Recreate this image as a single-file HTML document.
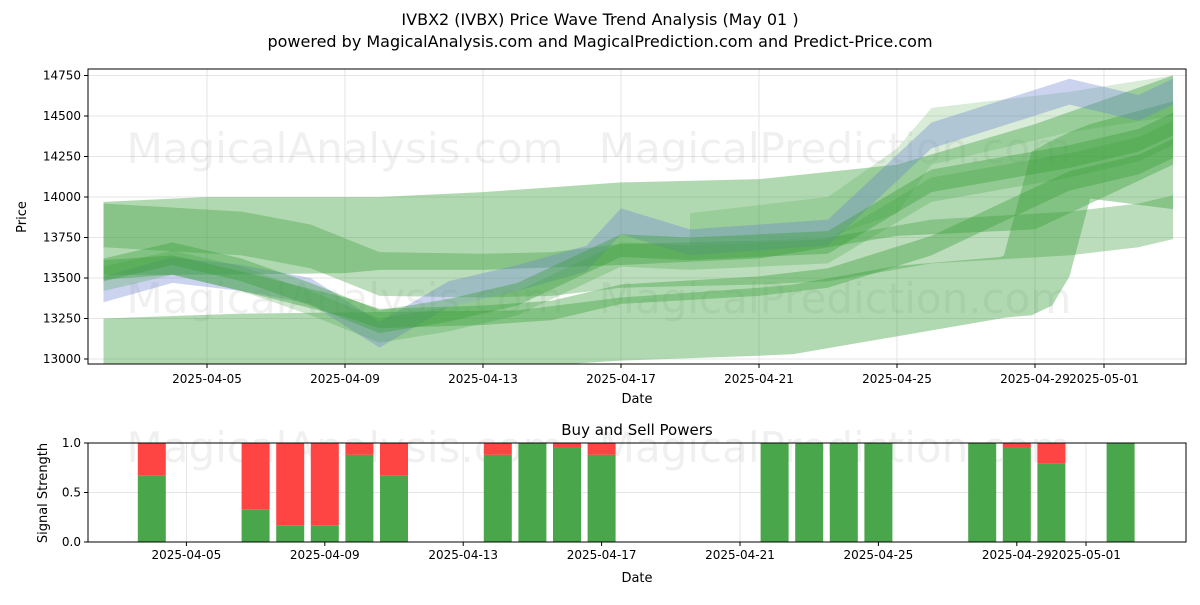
<!DOCTYPE html>
<html><head><meta charset="utf-8"><style>
body{margin:0;background:#fff;font-family:"Liberation Sans","DejaVu Sans",sans-serif}
svg text{font-family:"DejaVu Sans","Liberation Sans",sans-serif}
</style></head><body>
<svg id="chart" width="1200" height="600" xmlns="http://www.w3.org/2000/svg">
<rect width="1200" height="600" fill="#fff"/>
<text x="600" y="25" text-anchor="middle" font-size="16">IVBX2 (IVBX) Price Wave Trend Analysis (May 01 )</text>
<text x="600" y="47" text-anchor="middle" font-size="16">powered by MagicalAnalysis.com and MagicalPrediction.com and Predict-Price.com</text>
<g id="gtop"></g>
<g id="gbot"></g>
</svg>
<script>
// data
const xTickLabels=["2025-04-05","2025-04-09","2025-04-13","2025-04-17","2025-04-21","2025-04-25","2025-04-29","2025-05-01"];
const xTickDays=[4,8,12,16,20,24,28,30];
const yTicks=[13000,13250,13500,13750,14000,14250,14500,14750];
const sTicks=[0,0.5,1.0];
const b1Days=[1,5,9,13,16,20,21,24,27,27.1,27.9,28.5,29,29.6,32];
const b1Hi=[13250,13280,13290,13300,13380,13440,13460,13575,13630,13640,14280,14350,14400,14450,14590];
const b1Lo=[12950,12950,12950,12950,12990,13020,13030,13140,13250,13255,13270,13330,13510,13990,13925];
const b2Days=[1,4,8,9,12,16,20,24,28,32];
const b2Hi=[13970,14000,14000,14000,14030,14090,14110,14200,14450,14750];
const b2Lo=[13520,13520,13530,13550,13550,13580,13620,13760,13800,14200];
const b3Days=[1,3,5,7,9,11,13,15,16,18,22,25,29,31,32];
const b3Mid=[13430,13550,13500,13420,13150,13400,13500,13620,13850,13720,13780,14380,14650,14550,14650];
const b4Mid=[13550,13650,13550,13400,13230,13300,13400,13600,13700,13680,13720,14100,14250,14350,14450];
const b5Days=[1,5,7,9,12,14,16,20,22,25,29,31,32];
const b5Mid=[13950,13900,13820,13650,13640,13650,13700,13720,13740,13850,13900,13950,14000];
const b6Days=[1,3,5,8,9,12,14,16,20,22,25,29,31,32];
const b6Mid=[13550,13580,13480,13320,13250,13270,13300,13400,13450,13500,13700,14100,14200,14300];
const b7Days=[18,22,24,25,29,32];
const b7Hi=[13900,14000,14300,14550,14650,14750];
const b7Lo=[13700,13750,13900,14200,14400,14500];
const barDays=[3,6,7,8,9,10,13,14,15,16,21,22,23,24,27,28,29,31];
const buyVals=[0.67,0.33,0.17,0.17,0.88,0.67,0.88,1,0.95,0.88,1,1,1,1,1,0.95,0.79,1];

const NS="http://www.w3.org/2000/svg";
const L=88,R=1186,T1=69,B1=364,T2=443,B2=542;
const xd=d=>69+34.5*d;
const xb=d=>48+34.6*d;
const yp=v=>359-(v-13000)*40.5/250;
const ys=v=>B2-(v)*99;
function mk(tag,attrs,parent){const e=document.createElementNS(NS,tag);for(const k in attrs)e.setAttribute(k,attrs[k]);parent.appendChild(e);return e;}
const gTopEl=document.getElementById('gtop'),gBotEl=document.getElementById('gbot');
const defs=mk('defs',{},gTopEl);
const cp=mk('clipPath',{id:'c1'},defs);mk('rect',{x:L,y:T1,width:R-L,height:B1-T1},cp);
yTicks.forEach(v=>{const l=mk('line',{x1:L,x2:R,y1:yp(v),y2:yp(v),stroke:'#ddd','stroke-width':0.8},gTopEl);

});
xTickDays.forEach(d=>{const l=mk('line',{x1:xd(d),x2:xd(d),y1:T1,y2:B1,stroke:'#ddd','stroke-width':0.8},gTopEl);

});
[[345,163],[835,163],[345,313],[835,313]].forEach((p,i)=>{const t=mk('text',{x:p[0],y:p[1],'text-anchor':'middle','font-size':42,fill:'#000','fill-opacity':0.06},gTopEl);t.textContent=i%2?'MagicalPrediction.com':'MagicalAnalysis.com';

});
const g=mk('g',{'clip-path':'url(#c1)'},gTopEl);
function band(days,hi,lo,fill,op,name){let pts=days.map((d,i)=>xd(d)+','+yp(hi[i]));for(let i=days.length-1;i>=0;i--)pts.push(xd(days[i])+','+yp(lo[i]));
const p=mk('polygon',{points:pts.join(' '),fill:fill,'fill-opacity':op},g);

}
band(b1Days,b1Hi,b1Lo,'#3c9f3c',0.4,'wave-band-lower');
band(b2Days,b2Hi,b2Lo,'#3c9f3c',0.4,'wave-band-upper');
band(b7Days,b7Hi,b7Lo,'#3c9f3c',0.2,'wave-band-top');
band(b5Days,b5Mid.map(v=>v+10),b5Mid.map(v=>v-260),'#3c9f3c',0.35,'wave-band-mid');
band(b3Days,b3Mid.map(v=>v+80),b3Mid.map(v=>v-80),'#6a80d0',0.35,'wave-band-blue');
band(b3Days,b4Mid.map(v=>v+70),b4Mid.map(v=>v-70),'#3c9f3c',0.4,'wave-band-main');
band(b6Days,b6Mid.map(v=>v+60),b6Mid.map(v=>v-60),'#3c9f3c',0.4,'wave-band-dark');
band(b3Days,b4Mid.map(v=>v+20),b4Mid.map(v=>v-130),'#3c9f3c',0.25,'wave-band-shadow');
mk('rect',{x:L,y:T1,width:R-L,height:B1-T1,fill:'none',stroke:'#000','stroke-width':1},gTopEl);
yTicks.forEach(v=>{mk('line',{x1:L-4,x2:L,y1:yp(v),y2:yp(v),stroke:'#000'},gTopEl);
const t=mk('text',{x:L-7,y:yp(v)+4,'text-anchor':'end','font-size':12},gTopEl);t.textContent=v;

});
xTickDays.forEach((d,i)=>{mk('line',{x1:xd(d),x2:xd(d),y1:B1,y2:B1+4,stroke:'#000'},gTopEl);
const t=mk('text',{x:xd(d),y:B1+19,'text-anchor':'middle','font-size':12},gTopEl);t.textContent=xTickLabels[i];

});
let tt=mk('text',{x:637,y:403,'text-anchor':'middle','font-size':13},gTopEl);tt.textContent='Date';


tt=mk('text',{x:26,y:217,'text-anchor':'middle','font-size':13,transform:'rotate(-90 26 217)'},gTopEl);tt.textContent='Price';


xTickDays.forEach(d=>{const l=mk('line',{x1:xb(d),x2:xb(d),y1:T2,y2:B2,stroke:'#ddd','stroke-width':0.8},gBotEl);

});
sTicks.forEach(v=>{const l=mk('line',{x1:L,x2:R,y1:ys(v),y2:ys(v),stroke:'#ddd','stroke-width':0.8},gBotEl);

});
[[345,462],[835,462]].forEach((p,i)=>{const w=mk('text',{x:p[0],y:p[1],'text-anchor':'middle','font-size':42,fill:'#000','fill-opacity':0.06},gBotEl);w.textContent=i?'MagicalPrediction.com':'MagicalAnalysis.com';

});
barDays.forEach((d,i)=>{const x=xb(d)-14,bv=buyVals[i];
const r=mk('rect',{x:x,y:ys(1),width:28,height:ys(bv)-ys(1),fill:'#ff4444'},gBotEl);


const gr=mk('rect',{x:x,y:ys(bv),width:28,height:B2-ys(bv),fill:'#4aa64a'},gBotEl);

});
mk('rect',{x:L,y:T2,width:R-L,height:B2-T2,fill:'none',stroke:'#000'},gBotEl);
sTicks.forEach(v=>{mk('line',{x1:L-4,x2:L,y1:ys(v),y2:ys(v),stroke:'#000'},gBotEl);
const s=mk('text',{x:L-7,y:ys(v)+4,'text-anchor':'end','font-size':12},gBotEl);s.textContent=v.toFixed(1);

});
xTickDays.forEach((d,i)=>{mk('line',{x1:xb(d),x2:xb(d),y1:B2,y2:B2+4,stroke:'#000'},gBotEl);
const s=mk('text',{x:xb(d),y:B2+17,'text-anchor':'middle','font-size':12},gBotEl);s.textContent=xTickLabels[i];

});
tt=mk('text',{x:637,y:435,'text-anchor':'middle','font-size':15},gBotEl);tt.textContent='Buy and Sell Powers';


tt=mk('text',{x:637,y:582,'text-anchor':'middle','font-size':13},gBotEl);tt.textContent='Date';


tt=mk('text',{x:47,y:493,'text-anchor':'middle','font-size':13,transform:'rotate(-90 47 493)'},gBotEl);tt.textContent='Signal Strength';


</script>
</body></html>
